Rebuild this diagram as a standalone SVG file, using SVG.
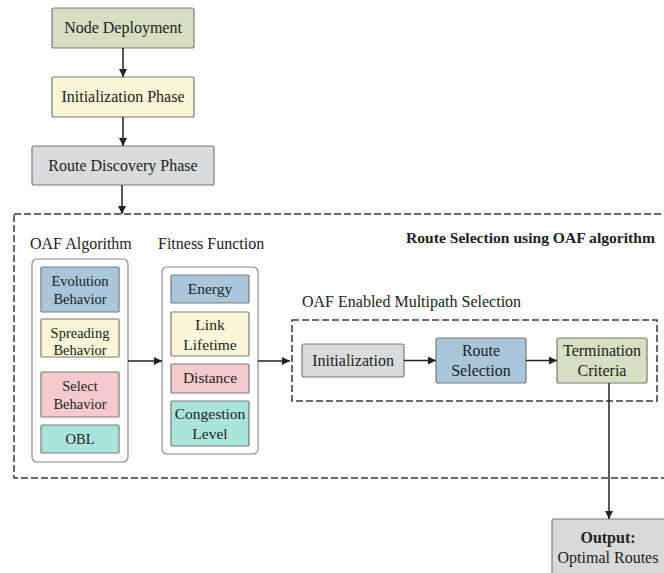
<svg xmlns="http://www.w3.org/2000/svg" width="664" height="573" viewBox="0 0 664 573">
<defs>
<marker id="ah" viewBox="0 0 10 10" refX="10" refY="5" markerWidth="8" markerHeight="8" markerUnits="userSpaceOnUse" orient="auto">
<path d="M0,0 L10,5 L0,10 z" fill="#222"/>
</marker>
<style>
text{font-family:"Liberation Serif","Times New Roman",serif;fill:#222;text-anchor:middle}
.b{stroke:#7a7a7a;stroke-width:1.2}
.cont{fill:#fff;stroke:#8a8a8a;stroke-width:1.2}
.dash{fill:none;stroke:#3a3a3a;stroke-width:1.5;stroke-dasharray:7 3}
.c{stroke:#222;stroke-width:1.5;fill:none;marker-end:url(#ah)}
.green{fill:#d6dfc2}.yellow{fill:#fbf6d6}.gray{fill:#d9dcdc}.blue{fill:#a9c6da}.pink{fill:#f5cacc}.teal{fill:#abe3dd}
.s14{font-size:14.5px}.s15{font-size:15.5px}.s16{font-size:16px}
.l{text-anchor:start}
</style>
</defs>
<rect width="664" height="573" fill="#fff"/>

<g id="regions">
<rect class="dash" x="14" y="214" width="660" height="264"/>
<text class="l" x="406" y="243" style="font-weight:bold;font-size:15.6px">Route Selection using OAF algorithm</text>
<text class="s16 l" x="30" y="249">OAF Algorithm</text>
<text class="s16 l" x="158" y="249">Fitness Function</text>
<rect class="dash" x="292" y="320" width="365" height="81"/>
<text class="s16 l" x="302" y="307">OAF Enabled Multipath Selection</text>
</g>

<g id="node-deployment">
<rect class="b green" x="52" y="8" width="142" height="40" rx="2"/>
<text class="s16" x="123" y="33">Node Deployment</text>
</g>
<g id="initialization-phase">
<rect class="b yellow" x="52" y="77" width="142" height="40" rx="2"/>
<text class="s16" x="123" y="102">Initialization Phase</text>
</g>
<g id="route-discovery">
<rect class="b gray" x="32" y="146" width="182" height="39" rx="2"/>
<text class="s16" x="123" y="171">Route Discovery Phase</text>
</g>

<g id="oaf-algorithm">
<rect class="cont" x="32" y="259" width="96" height="203" rx="5"/>
<g id="evolution"><rect class="b blue" x="41" y="267" width="78" height="45" rx="1"/>
<text class="s14" x="80" y="286">Evolution</text><text class="s14" x="80" y="304">Behavior</text></g>
<g id="spreading"><rect class="b yellow" x="41" y="319" width="78" height="38" rx="1"/>
<text class="s14" x="80" y="338">Spreading</text><text class="s14" x="80" y="355">Behavior</text></g>
<g id="select"><rect class="b pink" x="41" y="372" width="78" height="45" rx="1"/>
<text class="s14" x="80" y="391">Select</text><text class="s14" x="80" y="409">Behavior</text></g>
<g id="obl"><rect class="b teal" x="41" y="425" width="78" height="28" rx="1"/>
<text class="s14" x="80" y="444">OBL</text></g>
</g>

<g id="fitness-function">
<rect class="cont" x="162" y="267" width="96" height="187" rx="5"/>
<g id="energy"><rect class="b blue" x="171" y="275" width="78" height="28" rx="1"/>
<text class="s15" x="210" y="294">Energy</text></g>
<g id="link-lifetime"><rect class="b yellow" x="171" y="312" width="78" height="44" rx="1"/>
<text class="s15" x="210" y="330">Link</text><text class="s15" x="210" y="350">Lifetime</text></g>
<g id="distance"><rect class="b pink" x="171" y="364" width="78" height="29" rx="1"/>
<text class="s15" x="210" y="383">Distance</text></g>
<g id="congestion"><rect class="b teal" x="171" y="401" width="78" height="45" rx="1"/>
<text class="s15" x="210" y="419">Congestion</text><text class="s15" x="210" y="439">Level</text></g>
</g>

<g id="initialization">
<rect class="b gray" x="302" y="344" width="102" height="33" rx="2"/>
<text class="s16" x="353" y="366">Initialization</text>
</g>
<g id="route-selection">
<rect class="b blue" x="436" y="338" width="90" height="45" rx="2"/>
<text class="s16" x="481" y="356">Route</text><text class="s16" x="481" y="376">Selection</text>
</g>
<g id="termination">
<rect class="b green" x="557" y="338" width="90" height="45" rx="2"/>
<text class="s16" x="602" y="356">Termination</text><text class="s16" x="602" y="376">Criteria</text>
</g>
<g id="output">
<rect class="b" fill="#d9d9d9" x="552" y="519" width="120" height="60" rx="2"/>
<text class="s16" x="608" y="543" style="font-weight:bold">Output:</text>
<text class="s16" x="608" y="563">Optimal Routes</text>
</g>

<g id="connectors">
<path class="c" d="M123,48 V77"/>
<path class="c" d="M123,117 V146"/>
<path class="c" d="M122,185 V214"/>
<path class="c" d="M128,361 H162"/>
<path class="c" d="M258,361 H290"/>
<path class="c" d="M404,360.5 H436"/>
<path class="c" d="M526,360.5 H557"/>
<path class="c" d="M609,383 V519"/>
</g>
</svg>
